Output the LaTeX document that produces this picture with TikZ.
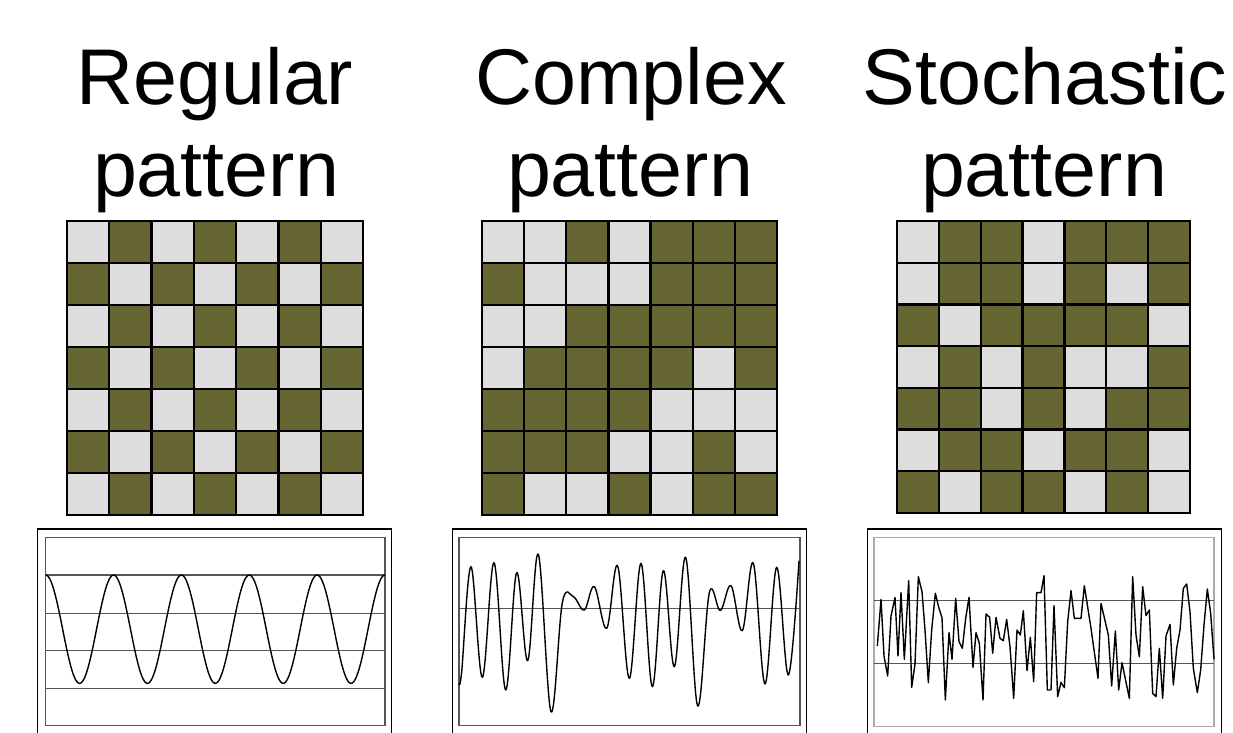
\documentclass[tikz,border=0pt]{standalone}
\usepackage{fontspec}
\setmainfont{Liberation Sans}
\definecolor{c0}{HTML}{DDDDDD}
\definecolor{c1}{HTML}{666633}
\definecolor{axisgray}{HTML}{555555}
\definecolor{lightframe}{HTML}{AAAAAA}
\tikzset{
  title/.style={font=\fontsize{79pt}{91pt}\selectfont, anchor=base, inner sep=0pt},
  gridline/.style={line width=2.2pt, black, line cap=rect},
  frameout/.style={line width=1.3pt, black},
  framein/.style={line width=1.3pt, axisgray},
  framelight/.style={line width=1.3pt, lightframe},
  hline/.style={line width=1.3pt, axisgray},
  curve/.style={line width=1.4pt, black, line join=round},
}
\newcommand\drawgrid[5]{%
  \begin{scope}[shift={(#1,#2)},xscale=#3/7,yscale=#4/7]
    \foreach \rowlist [count=\rr] in {#5} {
      \foreach \v [count=\cc] in \rowlist {
        \fill[c\v] (\cc-1,\rr-1) rectangle (\cc,\rr);
      }
    }
    \foreach \i in {0,...,7} {
      \draw[gridline] (\i,0) -- (\i,7);
      \draw[gridline] (0,\i) -- (7,\i);
    }
  \end{scope}}
\begin{document}
\begin{tikzpicture}[x=1pt,y=-1pt]
\useasboundingbox (0,0) rectangle (1233,732);
\fill[white] (0,0) rectangle (1233,732);
\clip (0,0) rectangle (1233,732);

% titles
\node[title] (t1a) at (215,104) {Regular};
\node[title] (t1b) at (216,196) {pattern};
\node[title] (t2a) at (631,104) {Complex};
\node[title] (t2b) at (630,196) {pattern};
\node[title] (t3a) at (1045,104) {Stochastic};
\node[title] (t3b) at (1044,196) {pattern};

% grids
\drawgrid{67}{221}{296}{294}{{0,1,0,1,0,1,0},{1,0,1,0,1,0,1},{0,1,0,1,0,1,0},{1,0,1,0,1,0,1},{0,1,0,1,0,1,0},{1,0,1,0,1,0,1},{0,1,0,1,0,1,0}}
\drawgrid{482}{221}{295}{294}{{0,0,1,0,1,1,1},{1,0,0,0,1,1,1},{0,0,1,1,1,1,1},{0,1,1,1,1,0,1},{1,1,1,1,0,0,0},{1,1,1,0,0,1,0},{1,0,0,1,0,1,1}}
\drawgrid{897}{221}{293}{292}{{0,1,1,0,1,1,1},{0,1,1,0,1,0,1},{1,0,1,1,1,1,0},{0,1,0,1,0,0,1},{1,1,0,1,0,1,1},{0,1,1,0,1,1,0},{1,0,1,1,0,1,0}}

% plot 1: regular
\begin{scope}[shift={(30,520)},x=0.33333pt,y=-0.33333pt]
  \draw[frameout] (22,27) rectangle (1085,720);
  \draw[framein] (47,52) rectangle (1065,617);
  \foreach \yy in {165,280,392,505} \draw[hline] (47,\yy) -- (1065,\yy);
  \draw[curve] plot[domain=47:1065,samples=300] (\x,{327.5-162.5*cos((\x-47)*1.768173)});
\end{scope}

% plot 2: complex
\begin{scope}[shift={(445,520)},x=0.33333pt,y=-0.33333pt]
  \draw[frameout] (22,27) rectangle (1085,720);
  \draw[framein] (42,52) rectangle (1065,617);
  \draw[hline] (42,265) -- (1065,265);
  \draw[curve] plot[smooth,tension=0.6] coordinates {(42,490) (50,455) (78,140) (112,472) (147,128) (182,510) (215,158) (248,422) (280,103) (318,575) (352,248) (385,230) (418,270) (448,200) (485,325) (518,138) (553,475) (588,130) (622,500) (655,152) (688,440) (722,112) (758,558) (793,218) (826,272) (858,197) (892,332) (925,130) (960,492) (995,142) (1030,465) (1062,122)};
\end{scope}

% plot 3: stochastic
\begin{scope}[shift={(860,520)},x=0.33333pt,y=-0.33333pt]
  \draw[frameout] (22,27) rectangle (1085,720);
  \draw[framelight] (42,52) rectangle (1062,620);
  \foreach \yy in {242,430} \draw[hline] (42,\yy) -- (1062,\yy);
  \draw[curve] (52,378) -- (63,238) -- (72,408) -- (83,468) -- (93,288) -- (105,232) -- (114,408) -- (123,218) -- (133,418) -- (146,182) -- (155,502) -- (165,432) -- (175,170) -- (186,215) -- (195,330) -- (205,488) -- (215,330) -- (226,220) -- (237,265) -- (246,293) -- (256,540) -- (267,338) -- (276,418) -- (287,235) -- (297,365) -- (307,385) -- (317,295) -- (327,232) -- (339,442) -- (348,338) -- (358,370) -- (369,540) -- (378,282) -- (389,292) -- (398,400) -- (408,292) -- (420,355) -- (430,362) -- (440,298) -- (450,380) -- (461,535) -- (471,330) -- (481,345) -- (490,272) -- (501,452) -- (511,352) -- (521,485) -- (530,218) -- (543,218) -- (552,167) -- (562,510) -- (573,510) -- (582,257) -- (593,530) -- (603,487) -- (613,503) -- (623,305) -- (633,212) -- (643,295) -- (663,295) -- (673,197) -- (693,325) -- (714,475) -- (723,250) -- (745,345) -- (755,498) -- (766,333) -- (776,510) -- (786,428) -- (808,535) -- (818,170) -- (828,345) -- (838,410) -- (848,200) -- (858,287) -- (868,270) -- (878,520) -- (888,530) -- (898,385) -- (908,535) -- (918,348) -- (930,313) -- (940,495) -- (950,385) -- (960,330) -- (970,205) -- (980,192) -- (990,275) -- (1000,445) -- (1012,518) -- (1022,450) -- (1032,315) -- (1042,207) -- (1052,280) -- (1062,418);
\end{scope}
\end{tikzpicture}
\end{document}
